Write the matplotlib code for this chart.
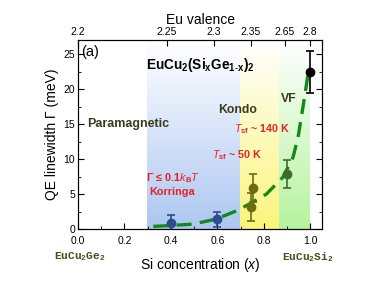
import numpy as np
import matplotlib
matplotlib.use("Agg")
import matplotlib.pyplot as plt
from matplotlib.ticker import MultipleLocator, FormatStrFormatter
from matplotlib.colors import LinearSegmentedColormap

plt.rcParams["font.family"] = ["Liberation Sans", "DejaVu Sans"]
plt.rcParams["mathtext.fontset"] = "custom"
plt.rcParams["mathtext.rm"] = "Liberation Sans"
plt.rcParams["mathtext.it"] = "Liberation Sans:italic"
plt.rcParams["mathtext.bf"] = "Liberation Sans:bold"
plt.rcParams["mathtext.tt"] = "Liberation Mono:bold"

# Data
x_blue = [0.4, 0.6]
y_blue = [0.9, 1.4]
e_blue = [1.1, 1.1]
x_olive = [0.753, 0.746]
y_olive = [5.9, 3.1]
e_olive = [2.0, 2.0]
x_green = [0.9]
y_green = [7.9]
e_green = [2.0]
x_black = [1.0]
y_black = [22.5]
e_black = [3.0]

curve_x = [0.324, 0.40, 0.496, 0.596, 0.682, 0.739, 0.811, 0.882, 0.925, 0.947, 0.968, 0.99]
curve_y = [0.37, 0.5, 0.7, 1.43, 2.6, 3.6, 5.0, 7.4, 10.2, 13.1, 17.4, 22.1]

valence_pos = [0.0, 0.381, 0.584, 0.743, 0.89, 0.998]
valence_labels = ["2.2", "2.25", "2.3", "2.35", "2.65", "2.8"]

regions = [(0.295, 0.695, "#adc7f2"), (0.695, 0.866, "#fbf57a"), (0.866, 0.997, "#b5f39f")]

fig = plt.figure(figsize=(3.82, 2.86), dpi=100)
ax = fig.add_axes([78/382, 1-229/286, 244/382, 189/286])

grad = np.linspace(1, 0, 256).reshape(-1, 1)
for x0, x1, c in regions:
    cmap = LinearSegmentedColormap.from_list("g", ["#ffffff", c])
    ax.imshow(grad, extent=[x0, x1, 0, 27], origin="lower", cmap=cmap,
              aspect="auto", zorder=0, interpolation="bilinear", vmin=0, vmax=1)
ax.set_xlim(0, 1.05)
ax.set_ylim(0, 27)

ax.plot(curve_x, curve_y, color="#118a1a", lw=2.4, dashes=(4.5, 2.5), zorder=3)

def eb(x, y, e, c):
    ax.errorbar(x, y, yerr=e, fmt="o", ms=6, color=c, ecolor=c, elinewidth=1.2,
                capsize=3, capthick=1.2, zorder=4)

eb(x_blue, y_blue, e_blue, "#2d4d8c")
eb(x_olive, y_olive, e_olive, "#6e6a14")
eb(x_green, y_green, e_green, "#3f6b2a")
eb(x_black, y_black, e_black, "#000000")

ax.xaxis.set_major_locator(MultipleLocator(0.2))
ax.xaxis.set_minor_locator(MultipleLocator(0.1))
ax.yaxis.set_major_locator(MultipleLocator(5))
ax.yaxis.set_minor_locator(MultipleLocator(2.5))
ax.tick_params(which="both", direction="in", right=True, labelsize=7.5, pad=2)
ax.tick_params(axis="x", which="both", pad=5)
ax.tick_params(which="major", length=4)
ax.tick_params(which="minor", length=2)
ax.xaxis.set_major_formatter(FormatStrFormatter("%.1f"))

ax.set_xlabel("Si concentration ($x$)", fontsize=10, labelpad=7)
ax.set_ylabel("QE linewidth Γ (meV)", fontsize=10, labelpad=3)

top = ax.twiny()
top.set_xlim(0, 1.05)
top.set_xticks(valence_pos)
top.set_xticklabels(valence_labels)
top.tick_params(direction="in", length=4, labelsize=7.5, pad=2)
top.set_xlabel("Eu valence", fontsize=10, labelpad=2)

dk = "#3b3b1c"
red = "#e8202a"
ax.text(0.015, 25.3, "(a)", fontsize=10.5, va="center", ha="left")
ax.text(0.525, 23.5, r"$\mathbf{EuCu_2(Si_xGe_{1\text{-}x})_2}$", fontsize=9.8, ha="center", va="center")
ax.text(0.04, 15.0, "Paramagnetic", fontsize=9, fontweight="bold", color=dk, va="center")
ax.text(0.603, 17.0, "Kondo", fontsize=8.8, fontweight="bold", color=dk, va="center")
ax.text(0.873, 18.5, "VF", fontsize=8.8, fontweight="bold", color=dk, va="center")
ax.text(0.672, 14.3, r"$\mathbf{\mathit{T}_{sf}}$ ~ 140 K", fontsize=7.7, fontweight="bold", color=red, va="center")
ax.text(0.578, 10.5, r"$\mathbf{\mathit{T}_{sf}}$ ~ 50 K", fontsize=7.7, fontweight="bold", color=red, va="center")
ax.text(0.293, 7.3, r"Γ ≤ 0.1$\mathbf{\mathit{k}_B\mathit{T}}$", fontsize=7.8, fontweight="bold", color=red, va="center")
ax.text(0.308, 5.3, "Korringa", fontsize=7.8, fontweight="bold", color=red, va="center")

fig.text(54/382, 1-257/286, r"EuCu$_\mathtt{2}$Ge$_\mathtt{2}$", fontsize=8, family="Liberation Mono",
         fontweight="bold", color="#4a4a1e", va="center", ha="left")
fig.text(282/382, 1-257/286, r"EuCu$_\mathtt{2}$Si$_\mathtt{2}$", fontsize=8, family="Liberation Mono",
         fontweight="bold", color="#4a4a1e", va="center", ha="left")

fig.savefig("out.png", dpi=100)
